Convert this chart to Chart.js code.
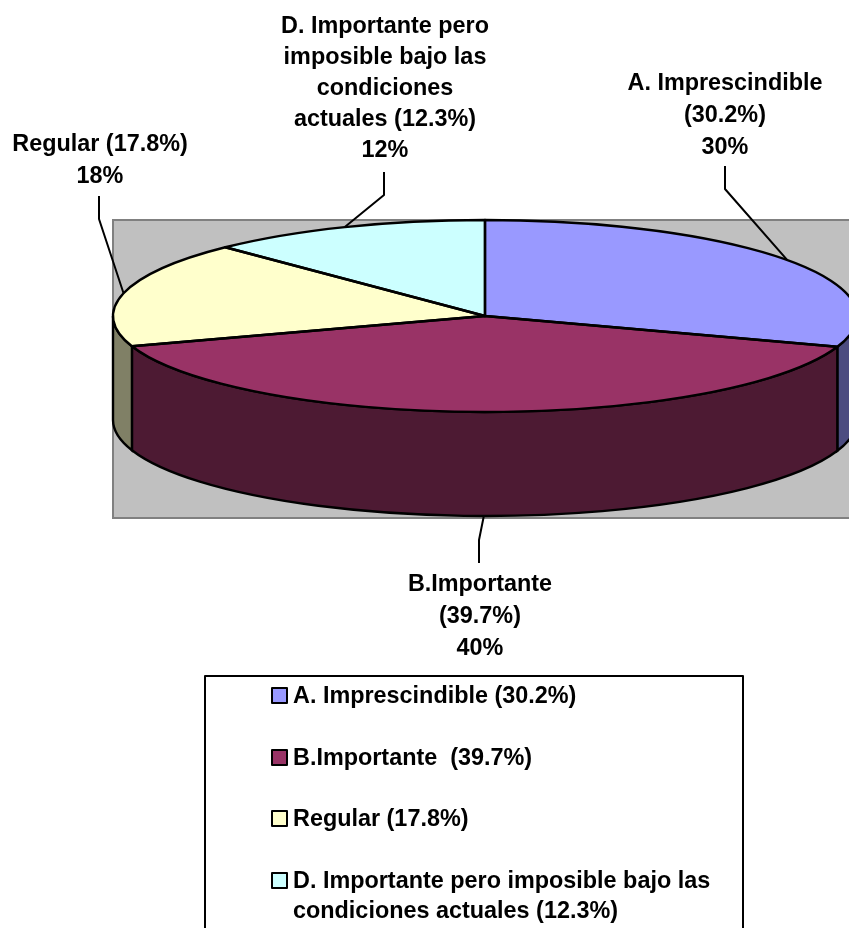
<!DOCTYPE html>
<html lang="es">
<head>
<meta charset="utf-8">
<title>Importancia</title>
<script src="https://cdn.jsdelivr.net/npm/chart.js@4/dist/chart.umd.min.js"></script>
<style>
    html, body { margin: 0; padding: 0; background: #fff; overflow: hidden; }
    canvas { display: block; }
</style>
</head>
<body>
<canvas id="pieChart" width="849" height="928"></canvas>
<script>
// datos
const categories = ['A. Imprescindible (30.2%)', 'B.Importante  (39.7%)', 'Regular (17.8%)', 'D. Importante pero imposible bajo las condiciones actuales (12.3%)'];
const values = [30.2, 39.7, 17.8, 12.3];
const sliceColors = ['#9999ff', '#993366', '#ffffcc', '#ccffff'];
const wallColors = ['#4c4c80', '#4d1a33', '#808066', '#668080'];

// etiquetas de cada sector, ya partidas en lineas
const sliceLabelLines = [
    ['A. Imprescindible', '(30.2%)', '30%'],
    ['B.Importante', '(39.7%)', '40%'],
    ['Regular (17.8%)', '18%'],
    ['D. Importante pero', 'imposible bajo las', 'condiciones', 'actuales (12.3%)', '12%']
];
const legendLines = [
    ['A. Imprescindible (30.2%)'],
    ['B.Importante  (39.7%)'],
    ['Regular (17.8%)'],
    ['D. Importante pero imposible bajo las', 'condiciones actuales (12.3%)']
];

// geometria del pastel
const RADIUS = 372;
const CENTER_X = 485;
const CENTER_Y = 316;
const SQUASH = 96 / 372;
const DEPTH = 104;
const FONT = 'bold 23.4px "Liberation Sans", Arial, sans-serif';
const LINE_WIDTH = 2.4;

// posicion de cada etiqueta y codo de su linea guia
const labelBoxes = [
    { x: 725, y: 84, lineHeight: 32, elbow: [725, 189], start: [725, 166] },
    { x: 480, y: 585, lineHeight: 32, elbow: [479, 540], start: [479, 563] },
    { x: 100, y: 145, lineHeight: 32, elbow: [99, 219], start: [99, 196] },
    { x: 385, y: 27, lineHeight: 31, elbow: [384, 195], start: [384, 172] }
];
const legendBox = { left: 205, top: 676, right: 743, bottom: 940 };
const legendRows = [695, 757, 818, 880];

// fondo gris del area de trazado
function drawPlotArea(ctx) {
    ctx.fillStyle = '#c0c0c0';
    ctx.fillRect(113, 220, 760, 298);
    ctx.strokeStyle = '#808080';
    ctx.lineWidth = 2;
    ctx.strokeRect(113, 220, 760, 298);
}

// cara lateral: solo la mitad delantera del pastel
function drawWalls(ctx, arcs) {
    const ry = RADIUS * SQUASH;
    ctx.lineWidth = LINE_WIDTH;
    ctx.strokeStyle = '#000';
    arcs.forEach(function(arc, i) {
        const from = Math.max(arc.startAngle, 0);
        const to = Math.min(arc.endAngle, Math.PI);
        if (from >= to) return;
        ctx.beginPath();
        ctx.ellipse(CENTER_X, CENTER_Y, RADIUS, ry, 0, from, to);
        ctx.ellipse(CENTER_X, CENTER_Y + DEPTH, RADIUS, ry, 0, to, from, true);
        ctx.closePath();
        ctx.fillStyle = wallColors[i];
        ctx.fill();
        ctx.stroke();
    });
}

// contorno de cada sector, con grosor uniforme fuera de la escala vertical
function drawOutlines(ctx, arcs) {
    const ry = RADIUS * SQUASH;
    ctx.lineWidth = LINE_WIDTH;
    ctx.strokeStyle = '#000';
    ctx.lineJoin = 'round';
    arcs.forEach(function(arc) {
        ctx.beginPath();
        ctx.moveTo(CENTER_X, CENTER_Y);
        ctx.ellipse(CENTER_X, CENTER_Y, RADIUS, ry, 0, arc.startAngle, arc.endAngle);
        ctx.closePath();
        ctx.stroke();
    });
}

function drawSliceLabels(ctx, arcs) {
    const ry = RADIUS * SQUASH;
    ctx.font = FONT;
    ctx.fillStyle = '#000';
    ctx.textAlign = 'center';
    ctx.textBaseline = 'middle';
    ctx.lineWidth = 2;
    ctx.strokeStyle = '#000';
    arcs.forEach(function(arc, i) {
        const box = labelBoxes[i];
        sliceLabelLines[i].forEach(function(line, n) {
            ctx.fillText(line, box.x, box.y + n * box.lineHeight);
        });
        // la guia termina en el borde del sector, a mitad de su angulo
        const mid = (arc.startAngle + arc.endAngle) / 2;
        let endY = CENTER_Y + Math.sin(mid) * ry;
        if (Math.sin(mid) > 0) endY += DEPTH;
        ctx.beginPath();
        ctx.moveTo(box.start[0], box.start[1]);
        ctx.lineTo(box.elbow[0], box.elbow[1]);
        ctx.lineTo(CENTER_X + Math.cos(mid) * RADIUS, endY);
        ctx.stroke();
    });
}

function drawLegend(ctx) {
    ctx.fillStyle = '#fff';
    ctx.fillRect(legendBox.left, legendBox.top, legendBox.right - legendBox.left, legendBox.bottom - legendBox.top);
    ctx.strokeStyle = '#000';
    ctx.lineWidth = 2;
    ctx.strokeRect(legendBox.left, legendBox.top, legendBox.right - legendBox.left, legendBox.bottom - legendBox.top);

    ctx.font = FONT;
    ctx.textAlign = 'left';
    ctx.textBaseline = 'middle';
    legendLines.forEach(function(lines, i) {
        ctx.fillStyle = sliceColors[i];
        ctx.fillRect(272, legendRows[i] - 7, 15, 15);
        ctx.strokeRect(272, legendRows[i] - 7, 15, 15);
        ctx.fillStyle = '#000';
        lines.forEach(function(line, n) {
            ctx.fillText(line, 293, legendRows[i] + 2 + n * 30);
        });
    });
}

// aplana el pastel y dibuja lo que la libreria no trae
const flatPie = {
    id: 'flatPie',
    beforeDraw(chart) {
        drawPlotArea(chart.ctx);
    },
    beforeDatasetsDraw(chart) {
        const ctx = chart.ctx;
        drawWalls(ctx, chart.getDatasetMeta(0).data);
        ctx.save();
        ctx.translate(CENTER_X, CENTER_Y);
        ctx.scale(1, SQUASH);
        ctx.translate(-CENTER_X, -CENTER_Y);
    },
    afterDatasetsDraw(chart) {
        const ctx = chart.ctx;
        const arcs = chart.getDatasetMeta(0).data;
        ctx.restore();
        drawOutlines(ctx, arcs);
        drawSliceLabels(ctx, arcs);
        drawLegend(ctx);
    }
};

new Chart(document.getElementById('pieChart'), {
    type: 'pie',
    data: {
        labels: categories,
        datasets: [{
            data: values,
            backgroundColor: sliceColors,
            borderWidth: 0,
            radius: RADIUS,
            clip: false
        }]
    },
    options: {
        responsive: false,
        animation: false,
        events: [],
        // deja el centro del area en CENTER_X, CENTER_Y
        layout: { padding: { left: 2 * CENTER_X - 849, right: 0, top: 0, bottom: 928 - 2 * CENTER_Y } },
        plugins: {
            legend: { display: false },
            tooltip: { enabled: false }
        }
    },
    plugins: [flatPie]
});
</script>
</body>
</html>
